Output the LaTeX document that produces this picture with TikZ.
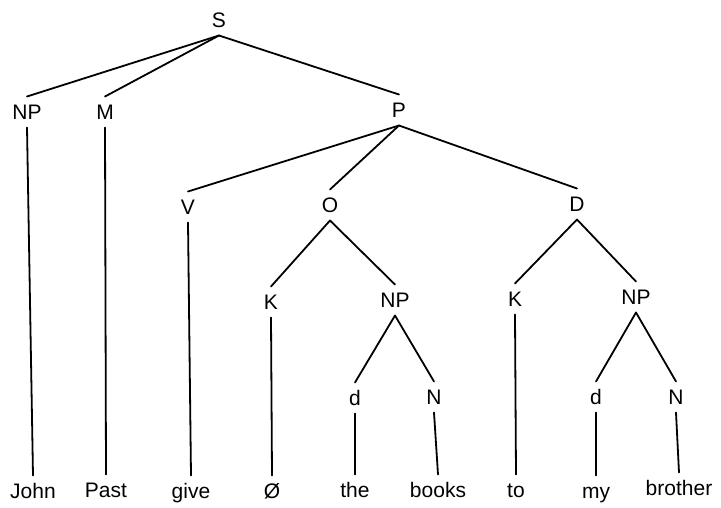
\documentclass[tikz,border=0pt]{standalone}
\usepackage{fontspec}
\setmainfont{Liberation Sans}
\begin{document}
\begin{tikzpicture}[x=1pt,y=-1pt,
  lab/.style={font=\fontsize{21}{24}\selectfont, text height=15pt, text depth=0pt, inner sep=0pt, outer ysep=8pt},
  br/.style={line width=1.8pt, line cap=round}]
\useasboundingbox (0,0) rectangle (721,507);
% labels
\node[lab] (S) at (219,20) {S};
\node[lab] (NPa) at (27,112) {NP};
\node[lab] (M) at (105,112) {M};
\node[lab] (P) at (399,110) {P};
\node[lab] (V) at (188,207) {V};
\node[lab] (O) at (330,205) {O};
\node[lab] (D) at (577,204) {D};
\node[lab] (Ka) at (271,302) {K};
\node[lab] (NPb) at (395,300) {NP};
\node[lab] (Kb) at (515,299) {K};
\node[lab] (NPc) at (636,297) {NP};
\node[lab] (da) at (355,398) {d};
\node[lab] (Na) at (434,397) {N};
\node[lab] (db) at (596,397) {d};
\node[lab] (Nb) at (676,397) {N};
% words
\node[lab] (w1) at (33,491) {John};
\node[lab] (w2) at (106,490) {Past};
\node[lab] (w3) at (191,491) {give};
\node[lab] (w4) at (272,491) {Ø};
\node[lab] (w5) at (355,490) {the};
\node[lab] (w6) at (438,490) {books};
\node[lab] (w7) at (516,490) {to};
\node[lab] (w8) at (596,491) {my};
\node[lab] (w9) at (679,488) {brother};
% branches
\draw[br] (S.south) -- (NPa.north);
\draw[br] (S.south) -- (M.north);
\draw[br] (S.south) -- (P.north);
\draw[br] (P.south) -- (V.north);
\draw[br] (P.south) -- (O.north);
\draw[br] (P.south) -- (D.north);
\draw[br] (O.south) -- (Ka.north);
\draw[br] (O.south) -- (NPb.north);
\draw[br] (D.south) -- (Kb.north);
\draw[br] (D.south) -- (NPc.north);
\draw[br] (NPb.south) -- (da.north);
\draw[br] (NPb.south) -- (Na.north);
\draw[br] (NPc.south) -- (db.north);
\draw[br] (NPc.south) -- (Nb.north);
\draw[br] (NPa.south) -- (w1.north);
\draw[br] (M.south) -- (w2.north);
\draw[br] (V.south) -- (w3.north);
\draw[br] (Ka.south) -- (w4.north);
\draw[br] (da.south) -- (w5.north);
\draw[br] (Na.south) -- (w6.north);
\draw[br] (Kb.south) -- (w7.north);
\draw[br] (db.south) -- (w8.north);
\draw[br] (Nb.south) -- (w9.north);
\end{tikzpicture}
\end{document}
